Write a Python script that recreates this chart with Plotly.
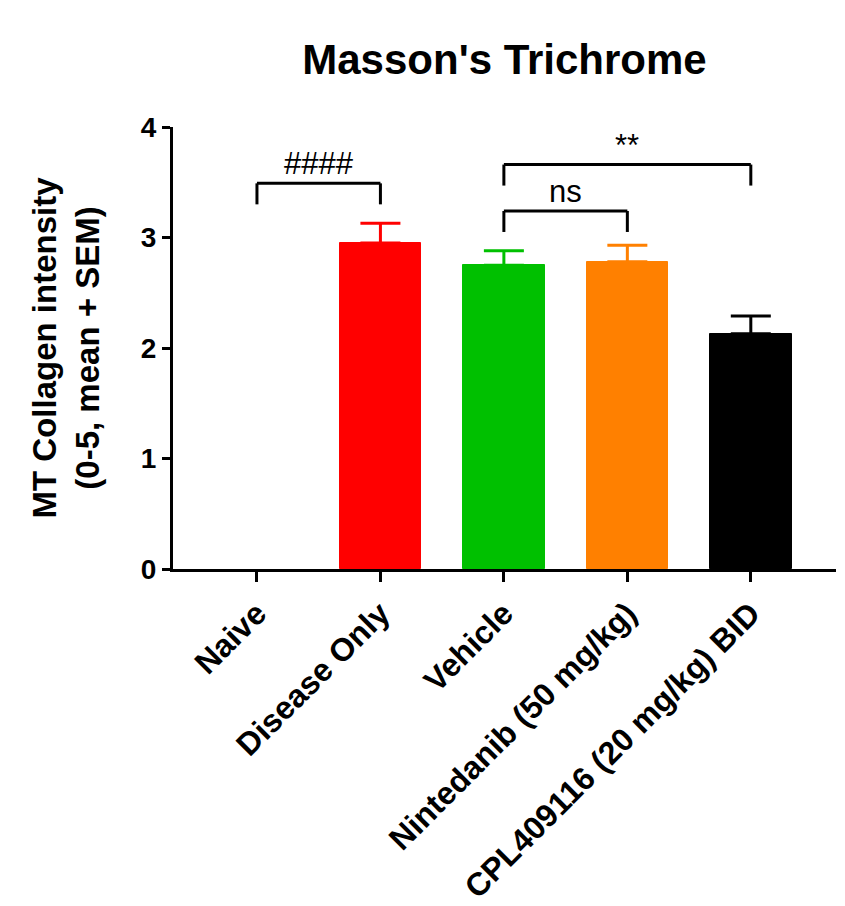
import plotly.graph_objects as go

# Group labels, means and SEM (collagen score 0-5)
groups = ["Naive", "Disease Only", "Vehicle", "Nintedanib (50 mg/kg)", "CPL409116 (20 mg/kg) BID"]
means = [0.0, 2.95, 2.75, 2.78, 2.13]
sems = [0.0, 0.18, 0.13, 0.15, 0.16]
colors = ["#FFFFFF", "#FF0000", "#00C000", "#FF8000", "#000000"]

# Significance brackets: (left group, right group, bar height, label)
brackets = [
    (0, 1, 3.49, "####"),
    (2, 3, 3.24, "ns"),
    (2, 4, 3.66, "**"),
]
leg_drop = 0.19

FONT = "Liberation Sans, Arial, sans-serif"

fig = go.Figure()
for i, (g, m, s, c) in enumerate(zip(groups, means, sems, colors)):
    show_err = s > 0
    fig.add_trace(go.Bar(
        x=[i], y=[m], width=0.66,
        marker=dict(color=c, line=dict(color=c, width=1)),
        error_y=dict(type="data", symmetric=False, array=[s], arrayminus=[0],
                     color=c, thickness=3, width=20, visible=show_err),
        showlegend=False, name=g,
    ))

for a, b, h, label in brackets:
    fig.add_shape(type="line", x0=a, x1=a, y0=h - leg_drop, y1=h,
                  line=dict(color="black", width=3))
    fig.add_shape(type="line", x0=a, x1=b, y0=h, y1=h,
                  line=dict(color="black", width=3))
    fig.add_shape(type="line", x0=b, x1=b, y0=h - leg_drop, y1=h,
                  line=dict(color="black", width=3))
    fig.add_annotation(x=(a + b) / 2, y=h, text=label, showarrow=False,
                       yanchor="bottom", yshift=0,
                       font=dict(family=FONT, size=31, color="black"))

fig.update_layout(
    width=845, height=906,
    margin=dict(l=173, r=9, t=127, b=337, autoexpand=False),
    plot_bgcolor="white", paper_bgcolor="white",
    title=dict(text="Masson's Trichrome", x=0.5, xref="paper", xanchor="center",
               y=1 - 59 / 906, yanchor="middle",
               font=dict(family=FONT, size=42, color="black", weight="bold")),
    bargap=0,
)

fig.update_xaxes(
    range=[-0.68, 4.69], tickvals=list(range(len(groups))), ticktext=groups,
    tickangle=-45, ticks="outside", ticklen=10, tickwidth=3, tickcolor="black",
    showline=True, linewidth=3, linecolor="black", showgrid=False, zeroline=False,
    automargin=False,
    tickfont=dict(family=FONT, size=32, color="black", weight="bold"),
)
fig.update_yaxes(
    range=[0, 4], tickvals=[0, 1, 2, 3, 4], ticks="outside", ticklen=8,
    tickwidth=3, tickcolor="black", showline=True, linewidth=3, linecolor="black",
    showgrid=False, zeroline=False, automargin=False,
    tickfont=dict(family=FONT, size=28, color="black", weight="bold"),
    title=dict(text="MT Collagen intensity<br>(0-5, mean + SEM)", standoff=32,
               font=dict(family=FONT, size=33, color="black", weight="bold")),
)

fig.write_html("out.html")
